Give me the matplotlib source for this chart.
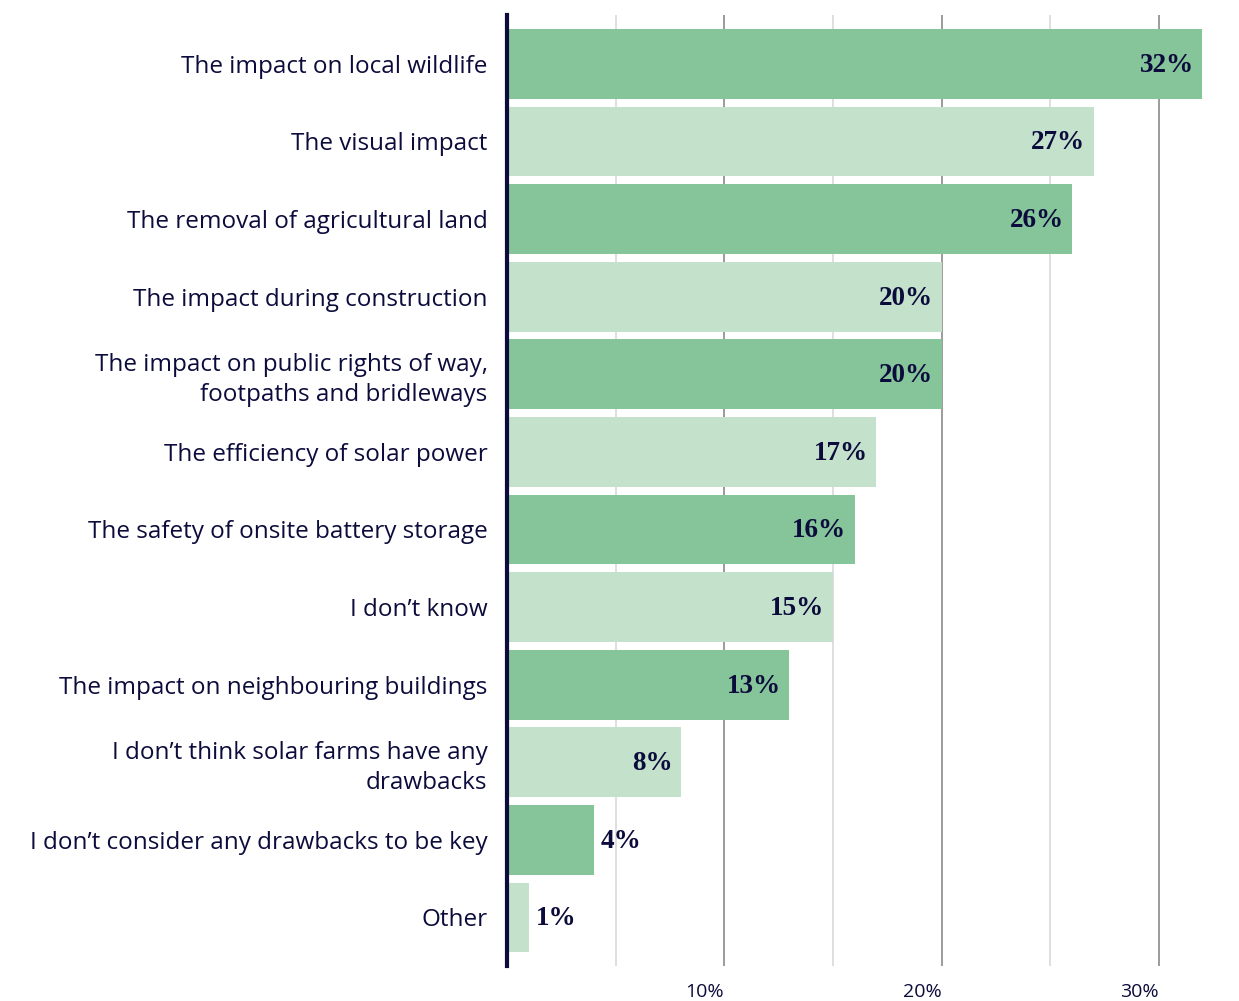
import matplotlib
matplotlib.use("Agg")
import matplotlib.pyplot as plt
from matplotlib.ticker import FixedLocator

categories = [
    "The impact on local wildlife",
    "The visual impact",
    "The removal of agricultural land",
    "The impact during construction",
    "The impact on public rights of way,\nfootpaths and bridleways",
    "The efficiency of solar power",
    "The safety of onsite battery storage",
    "I don\u2019t know",
    "The impact on neighbouring buildings",
    "I don\u2019t think solar farms have any\ndrawbacks",
    "I don\u2019t consider any drawbacks to be key",
    "Other",
]
values = [32, 27, 26, 20, 20, 17, 16, 15, 13, 8, 4, 1]
tick_values = [10, 20, 30]
tick_labels = ["10%", "20%", "30%"]

NAVY = "#0c0c3c"
DARK_GREEN = "#86c49a"
LIGHT_GREEN = "#c4e1cb"

fig = plt.figure(figsize=(12.39, 10.01), dpi=100)
ax = fig.add_axes([507 / 1239, 1 - 966 / 1001, 1 - 507 / 1239, (966 - 15) / 1001])

y = list(range(len(categories)))
colors = [DARK_GREEN if i % 2 == 0 else LIGHT_GREEN for i in y]
ax.barh(y, values, height=0.9, color=colors, zorder=2)

ax.set_ylim(len(categories) - 1 + 0.625, -0.63)
ax.set_xlim(0, 732 / 21.73)

# Gridlines: light at the 5% marks, darker at the 10% marks
for v in [5, 15, 25]:
    ax.axvline(v, color="#d9d9d9", lw=1.2, zorder=1)
for v in tick_values:
    ax.axvline(v, color="#8a8a8a", lw=1.2, zorder=1)

for s in ["top", "right", "bottom"]:
    ax.spines[s].set_visible(False)
ax.spines["left"].set_color(NAVY)
ax.spines["left"].set_linewidth(3)
ax.spines["left"].set_zorder(3)

ax.set_yticks(y)
ax.set_yticklabels(categories, fontfamily="Open Sans", fontsize=17.5, color=NAVY,
                   linespacing=1.3)
ax.tick_params(axis="y", length=0, pad=14)

ax.xaxis.set_major_locator(FixedLocator(tick_values))
ax.set_xticklabels(tick_labels, fontfamily="Open Sans", fontsize=14, color=NAVY, ha="right")
ax.tick_params(axis="x", length=0, pad=12)

for i, v in enumerate(values):
    if v >= 5:
        ax.annotate(f"{v}%", (v, i), xytext=(-6, -1), textcoords="offset points",
                    ha="right", va="center", fontfamily="Liberation Serif",
                    fontweight="bold", fontsize=19.5, color=NAVY, zorder=4)
    else:
        ax.annotate(f"{v}%", (v, i), xytext=(5, -1), textcoords="offset points",
                    ha="left", va="center", fontfamily="Liberation Serif",
                    fontweight="bold", fontsize=19.5, color=NAVY, zorder=4)

fig.savefig("out.png", dpi=100)
